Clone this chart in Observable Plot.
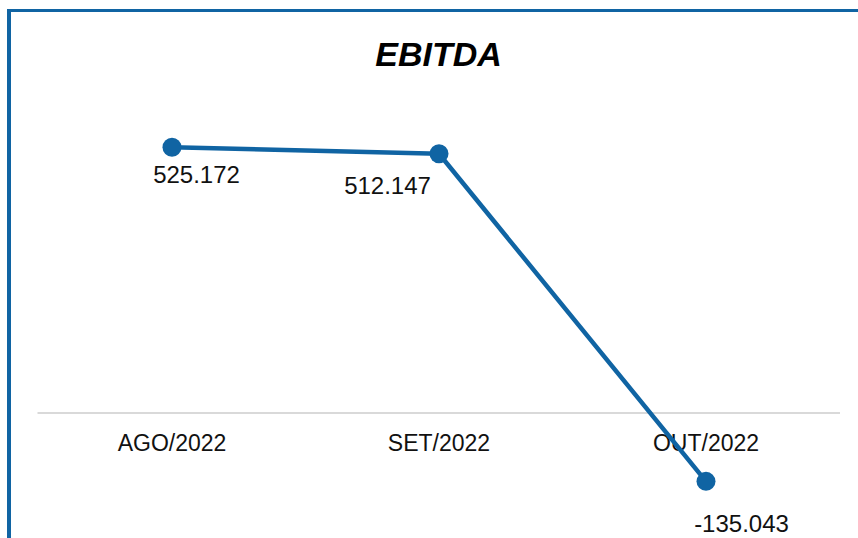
<!DOCTYPE html>
<html>
<head>
<meta charset="utf-8">
<script src="https://cdn.jsdelivr.net/npm/d3@7"></script>
<script src="https://cdn.jsdelivr.net/npm/@observablehq/plot@0.6"></script>
<style>
  html, body { margin: 0; padding: 0; background: #fff; overflow: hidden; }
  #wrap { position: relative; width: 858px; height: 538px; overflow: hidden; }
  #frame { position: absolute; left: 7px; top: 9px; width: 1000px; height: 1000px;
           border-top: 3px solid #1064a3; border-left: 4px solid #1064a3; box-sizing: border-box; }
  #title { position: absolute; left: 0; top: 34px; width: 877px; text-align: center;
           font-family: "Liberation Sans", Arial, sans-serif; font-weight: bold; font-style: italic;
           font-size: 34px; color: #000; line-height: 40px; }
  #chart { position: absolute; left: 0; top: 0; }
</style>
</head>
<body>
<div id="wrap">
  <div id="frame"></div>
  <div id="chart"></div>
  <div id="title">EBITDA</div>
</div>
<script>
const months = ["AGO/2022", "SET/2022", "OUT/2022"];
const ebitda = [525.172, 512.147, -135.043];
const valueLabels = ["525.172", "512.147", "-135.043"];

const data = months.map((m, i) => ({month: m, value: ebitda[i], label: valueLabels[i]}));
const blue = "#1064a3";
const font = "Liberation Sans, Arial, sans-serif";

const chart = Plot.plot({
  width: 858,
  height: 538,
  marginLeft: 37.5,
  marginRight: 18,
  marginTop: 0,
  marginBottom: 0,
  style: {fontFamily: font, background: "transparent"},
  x: {domain: months, type: "band", padding: 0, axis: null},
  y: {domain: [0, 525.172], range: [412.5, 146.7], axis: null},
  marks: [
    Plot.ruleY([0], {stroke: "#d9d9d9", strokeWidth: 2}),
    Plot.text(months, {x: d => d, y: () => 0, dy: 31, text: d => d, fontSize: 23, fill: "#111"}),
    Plot.line(data, {x: "month", y: "value", stroke: blue, strokeWidth: 4.5}),
    Plot.dot(data, {x: "month", y: "value", r: 9.5, fill: blue, stroke: null}),
    Plot.text(data.filter((d, i) => i === 0), {x: "month", y: "value", text: "label", dx: 24.5, dy: 28, fontSize: 24, fill: "#111"}),
    Plot.text(data.filter((d, i) => i === 1), {x: "month", y: "value", text: "label", dx: -51.5, dy: 33, fontSize: 24, fill: "#111"}),
    Plot.text(data.filter((d, i) => i === 2), {x: "month", y: "value", text: "label", dx: 35.5, dy: 43, fontSize: 24, fill: "#111"})
  ]
});
document.getElementById("chart").appendChild(chart);
</script>
</body>
</html>
